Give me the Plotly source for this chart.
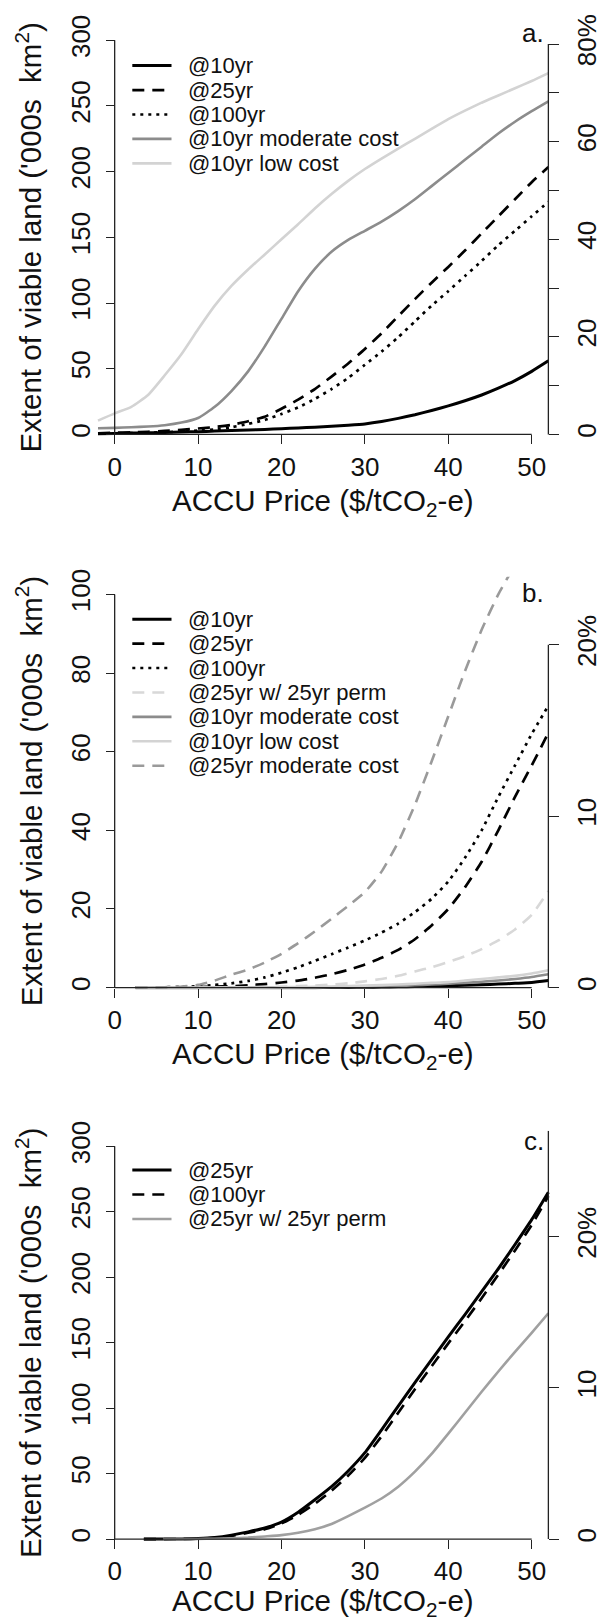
import plotly.graph_objects as go

# ---------------------------------------------------------------------------
# Extent of viable land vs ACCU price
# ---------------------------------------------------------------------------

# Panel a
price_a = [-2, 0, 2, 4, 6, 8, 10, 12, 14, 16, 18, 20, 22, 24, 26, 28, 30,
           32, 34, 36, 38, 40, 42, 44, 46, 48, 50, 52]
a_10yr = [0.5, 0.7, 1.0, 1.2, 1.5, 1.8, 2.1, 2.5, 2.9, 3.3, 3.8, 4.3, 4.9,
          5.5, 6.2, 7.0, 8.0, 9.8, 12.2, 15.0, 18.2, 21.7, 25.6, 30.0, 35.2,
          41.0, 48.0, 56.0]
a_25yr = [0.8, 1.2, 1.6, 2.0, 2.7, 3.5, 4.5, 5.6, 7.3, 10.0, 13.5, 19.5,
          26.5, 34.5, 44.0, 54.0, 65.0, 77.0, 90.0, 103.0, 115.5, 127.5,
          140.0, 153.0, 166.0, 179.0, 192.0, 203.5]
a_100yr = [0.5, 0.7, 1.0, 1.3, 1.7, 2.2, 2.9, 3.8, 5.5, 8.0, 11.0, 15.5,
           20.5, 27.0, 34.5, 43.0, 53.0, 63.0, 74.0, 86.0, 98.0, 109.0,
           120.5, 132.0, 144.0, 155.0, 166.0, 177.0]
a_10yr_moderate = [4.7, 5.0, 5.5, 6.0, 7.0, 9.0, 12.5, 21.0, 33.0, 48.0,
                   67.0, 88.0, 109.0, 126.0, 139.0, 148.0, 155.0, 162.0,
                   170.0, 179.0, 189.0, 199.0, 209.0, 219.0, 229.0, 238.0,
                   246.0, 253.5]
a_10yr_low = [10.5, 16.0, 21.0, 30.0, 45.0, 61.0, 80.0, 98.0, 113.0, 125.5,
              137.0, 148.5, 160.0, 172.0, 183.0, 193.0, 202.0, 210.0, 217.5,
              225.0, 232.5, 240.0, 246.5, 252.5, 258.0, 263.5, 269.0, 275.0]

# Panel b
price_b = [2.5, 4, 6, 8, 10, 12, 14, 16, 18, 20, 22, 24, 26, 28, 30, 32, 34,
           36, 38, 40, 42, 44, 46, 48, 50, 52]
b_10yr = [0, 0, 0, 0, 0, 0, 0, 0, 0, 0, 0, 0, 0.05, 0.05, 0.1, 0.15, 0.2,
          0.3, 0.4, 0.5, 0.6, 0.75, 0.9, 1.1, 1.3, 1.8]
b_25yr = [0, 0.02, 0.05, 0.1, 0.15, 0.25, 0.35, 0.6, 0.9, 1.3, 1.8, 2.5, 3.4,
          4.5, 5.9, 7.6, 9.6, 12.3, 15.8, 20.0, 25.5, 32.0, 40.0, 48.5, 56.5,
          64.8]
b_100yr = [0, 0.05, 0.1, 0.2, 0.35, 0.7, 1.1, 1.7, 2.6, 3.8, 5.2, 6.8, 8.5,
           10.2, 12.0, 14.0, 16.3, 19.2, 22.6, 27.0, 33.0, 40.0, 48.5, 56.5,
           64.5, 71.7]
b_25yr_perm25 = [0, 0, 0, 0, 0, 0, 0.05, 0.1, 0.15, 0.25, 0.4, 0.55, 0.8,
                 1.1, 1.6, 2.2, 3.0, 4.1, 5.2, 6.5, 8.0, 9.8, 12.0, 14.8,
                 18.5, 24.5]
b_10yr_moderate = [0, 0, 0, 0, 0, 0, 0, 0, 0, 0, 0, 0.05, 0.1, 0.15, 0.2,
                   0.3, 0.4, 0.6, 0.8, 1.0, 1.2, 1.5, 1.8, 2.2, 2.7, 3.4]
b_10yr_low = [0, 0, 0, 0, 0, 0, 0, 0, 0, 0.1, 0.15, 0.2, 0.3, 0.4, 0.5,
              0.65, 0.8, 1.0, 1.2, 1.4, 1.8, 2.2, 2.6, 3.0, 3.6, 4.4]
b_25yr_moderate = [0, 0.05, 0.1, 0.3, 0.7, 1.8, 3.3, 4.6, 6.4, 8.6, 11.3,
                   14.3, 17.5, 20.8, 24.3, 29.5, 37.0, 46.5, 57.5, 69.0, 80.5,
                   91.0, 100.0, 107.5]
price_b_25yr_moderate = price_b[:len(b_25yr_moderate)]

# Panel c
price_c = [3.5, 6, 8, 10, 12, 14, 16, 18, 20, 22, 24, 26, 28, 30, 32, 34, 36,
           38, 40, 42, 44, 46, 48, 50, 52]
c_25yr = [0, 0, 0.1, 0.4, 1.2, 3.0, 5.5, 8.5, 13.0, 20.5, 30.0, 40.0, 52.0,
          66.0, 83.5, 101.5, 119.5, 137.0, 154.5, 171.5, 189.0, 206.5, 225.0,
          244.0, 265.0]
c_100yr = [0, 0, 0.1, 0.3, 1.0, 2.5, 4.8, 7.5, 12.0, 18.5, 27.0, 37.0, 48.5,
           62.0, 78.5, 96.5, 114.5, 132.0, 149.5, 166.5, 184.0, 202.0, 220.5,
           240.0, 262.0]
price_c_perm25 = [5.8, 8, 10, 12, 14, 16, 18, 20, 22, 24, 26, 28, 30, 32, 34,
                  36, 38, 40, 42, 44, 46, 48, 50, 52]
c_25yr_perm25 = [0, 0, 0.1, 0.3, 0.6, 1.1, 2.0, 3.0, 4.8, 7.5, 11.5, 17.5,
                 24.0, 31.0, 40.0, 51.5, 65.0, 80.5, 96.5, 112.5, 128.0,
                 143.0, 157.5, 172.5]

price_ticks = [0, 10, 20, 30, 40, 50]

# ---------------------------------------------------------------------------
# styling
# ---------------------------------------------------------------------------
W, H = 602, 1623
FONT = "Liberation Sans, Arial, sans-serif"
INK = "#111111"
AXIS_INK = "#222222"
BLACK = "#000000"
MID_GREY = "#8c8c8c"
PALE_GREY = "#d3d3d3"
DASH = "12px,8px"
DOT = "3px,5px"

TICK_SIZE = 26
TITLE_SIZE = 29.5
LEGEND_SIZE = 22

# horizontal layout shared by all panels (pixels)
PX_PRICE0 = 117.0
PX_PER_DOLLAR = 8.51
X_RANGE = [-2.4, 52.4]
RIGHT_AXIS_PRICE = 52


def paper_x(px):
    return px / W


def paper_y(px):
    return 1 - px / H


def price_px(v):
    return PX_PRICE0 + v * PX_PER_DOLLAR


X_DOMAIN = [paper_x(price_px(X_RANGE[0])), paper_x(price_px(X_RANGE[1]))]

panels = [
    dict(
        label="a.", label_px=23.0,
        zero_px=427.3, px_per_unit=1.3227, y_range=[-1.5, 312],
        left_ticks=[0, 50, 100, 150, 200, 250, 300],
        units_per_pct=3.714,
        right_ticks=[0, 10, 20, 30, 40, 50, 60, 70, 80],
        right_text=["0", "", "20", "", "40", "", "60", "", "80%"],
        right_top=80, legend_top=56.0, title_px=496.0,
        series=[
            ("@10yr", price_a, a_10yr, BLACK, "solid", 3.0),
            ("@25yr", price_a, a_25yr, BLACK, DASH, 2.7),
            ("@100yr", price_a, a_100yr, BLACK, DOT, 2.7),
            ("@10yr moderate cost", price_a, a_10yr_moderate, MID_GREY, "solid", 2.6),
            ("@10yr low cost", price_a, a_10yr_low, PALE_GREY, "solid", 2.6),
        ],
    ),
    dict(
        label="b.", label_px=587.0,
        zero_px=984.3, px_per_unit=3.959, y_range=[-0.5, 104.5],
        left_ticks=[0, 20, 40, 60, 80, 100],
        units_per_pct=4.36,
        right_ticks=[0, 10, 20], right_text=["0", "10", "20%"],
        right_top=20, legend_top=613.3, title_px=1053.0,
        series=[
            ("@10yr", price_b, b_10yr, BLACK, "solid", 3.0),
            ("@25yr", price_b, b_25yr, BLACK, DASH, 2.7),
            ("@100yr", price_b, b_100yr, BLACK, DOT, 2.7),
            ("@25yr w/ 25yr perm", price_b, b_25yr_perm25, "#d8d8d8", DASH, 2.6),
            ("@10yr moderate cost", price_b, b_10yr_moderate, MID_GREY, "solid", 2.6),
            ("@10yr low cost", price_b, b_10yr_low, PALE_GREY, "solid", 2.6),
            ("@25yr moderate cost", price_b_25yr_moderate, b_25yr_moderate, "#9a9a9a", DASH, 2.6),
        ],
    ),
    dict(
        label="c.", label_px=1139.0,
        zero_px=1539.5, px_per_unit=1.318, y_range=[-1.5, 312],
        left_ticks=[0, 50, 100, 150, 200, 250, 300],
        units_per_pct=11.55,
        right_ticks=[0, 10, 20], right_text=["0", "10", "20%"],
        right_top=None, legend_top=1168.0, title_px=1603.5,
        series=[
            ("@25yr", price_c, c_25yr, BLACK, "solid", 3.0),
            ("@100yr", price_c, c_100yr, BLACK, DASH, 2.7),
            ("@25yr w/ 25yr perm", price_c_perm25, c_25yr_perm25, "#a0a0a0", "solid", 2.6),
        ],
    ),
]

LEGEND_ROW = 24.6
LEGEND_LINE_X = (135.0, 175.0)
LEGEND_TEXT_X = 190.0
LABEL_RIGHT_X = 557.0

fig = go.Figure()
layout = dict(
    width=W, height=H,
    margin=dict(l=0, r=0, t=0, b=0),
    paper_bgcolor="white", plot_bgcolor="white",
    showlegend=False,
    font=dict(family=FONT, color=INK),
)
shapes = []
annotations = []

tick_common = dict(
    ticks="outside", ticklen=9, tickwidth=1.3, tickcolor=AXIS_INK,
    showline=False, showgrid=False, zeroline=False,
    tickfont=dict(family=FONT, size=TICK_SIZE, color=INK),
)

for i, p in enumerate(panels):
    xa_name = "xaxis" if i == 0 else f"xaxis{i + 1}"
    xa = "x" if i == 0 else f"x{i + 1}"
    left_n = 2 * i + 1
    right_n = 2 * i + 2
    ya_name = "yaxis" if left_n == 1 else f"yaxis{left_n}"
    ya = "y" if left_n == 1 else f"y{left_n}"
    ya2_name = f"yaxis{right_n}"
    ya2 = f"y{right_n}"

    lo, hi = p["y_range"]
    ppu = p["px_per_unit"]
    bottom_px = p["zero_px"] - lo * ppu
    top_px = p["zero_px"] - hi * ppu
    y_domain = [paper_y(bottom_px), paper_y(top_px)]
    right_range = [lo / p["units_per_pct"], hi / p["units_per_pct"]]

    layout[xa_name] = dict(
        domain=X_DOMAIN, range=X_RANGE, anchor="free",
        position=paper_y(p["zero_px"]),
        tickvals=price_ticks, ticklabelstandoff=0, **tick_common,
    )
    layout[ya_name] = dict(
        domain=y_domain, range=p["y_range"], anchor="free",
        position=paper_x(price_px(0)), side="left",
        tickvals=p["left_ticks"], tickangle=-90, ticklabelstandoff=5,
        **tick_common,
    )
    layout[ya2_name] = dict(
        overlaying=ya, side="right", anchor="free",
        position=paper_x(price_px(RIGHT_AXIS_PRICE)),
        range=right_range, tickvals=p["right_ticks"],
        ticktext=p["right_text"], tickangle=-90, ticklabelstandoff=5,
        **{**tick_common, "ticklen": 10},
    )

    for name, xs, ys, color, dash, width in p["series"]:
        fig.add_trace(go.Scatter(
            x=xs, y=ys, name=name, mode="lines",
            line=dict(color=color, width=width, dash=dash,
                      shape="spline", smoothing=0.5),
            xaxis=xa, yaxis=ya, hoverinfo="skip",
        ))
    # keeps the percentage axis attached to its own subplot
    fig.add_trace(go.Scatter(x=[], y=[], xaxis=xa, yaxis=ya2,
                             hoverinfo="skip", showlegend=False))

    axis_line = dict(color=AXIS_INK, width=1.3)
    shapes.append(dict(type="line", xref=xa, yref=ya, x0=price_ticks[0],
                       x1=price_ticks[-1], y0=0, y1=0, line=axis_line))
    shapes.append(dict(type="line", xref=xa, yref=ya, x0=0, x1=0, y0=0,
                       y1=p["left_ticks"][-1], line=axis_line))
    right_top = p["right_top"] if p["right_top"] is not None else right_range[1]
    shapes.append(dict(type="line", xref=xa, yref=ya2, x0=RIGHT_AXIS_PRICE,
                       x1=RIGHT_AXIS_PRICE, y0=0, y1=right_top, line=axis_line))

    # legend block
    for k, (name, _, _, color, dash, width) in enumerate(p["series"]):
        row_px = p["legend_top"] + k * LEGEND_ROW
        shapes.append(dict(
            type="line", xref="paper", yref="paper",
            x0=paper_x(LEGEND_LINE_X[0]), x1=paper_x(LEGEND_LINE_X[1]),
            y0=paper_y(row_px), y1=paper_y(row_px),
            line=dict(color=color, width=width, dash=dash),
        ))
        annotations.append(dict(
            text=name, xref="paper", yref="paper",
            x=paper_x(LEGEND_TEXT_X), y=paper_y(row_px),
            xanchor="left", yanchor="middle", showarrow=False,
            font=dict(family=FONT, size=LEGEND_SIZE, color=INK),
        ))

    # panel letter
    annotations.append(dict(
        text=p["label"], xref="paper", yref="paper",
        x=paper_x(LABEL_RIGHT_X), y=paper_y(p["label_px"]),
        xanchor="right", yanchor="middle", showarrow=False,
        font=dict(family=FONT, size=TICK_SIZE, color=INK),
    ))

    # axis titles
    annotations.append(dict(
        text="ACCU Price ($/tCO<sub>2</sub>-e)", xref="paper", yref="paper",
        x=paper_x((price_px(price_ticks[0]) + price_px(price_ticks[-1])) / 2),
        y=paper_y(p["title_px"]), xanchor="center", yanchor="middle",
        showarrow=False, font=dict(family=FONT, size=TITLE_SIZE, color=INK),
    ))
    left_mid_px = p["zero_px"] - p["left_ticks"][-1] * ppu / 2
    annotations.append(dict(
        text="Extent of viable land ('000s&nbsp; km<sup>2</sup>)",
        xref="paper", yref="paper", x=paper_x(28.8), y=paper_y(left_mid_px),
        xanchor="center", yanchor="middle", textangle=-90, showarrow=False,
        font=dict(family=FONT, size=TITLE_SIZE, color=INK),
    ))

layout["shapes"] = shapes
layout["annotations"] = annotations
fig.update_layout(**layout)

fig.write_html("out.html")
